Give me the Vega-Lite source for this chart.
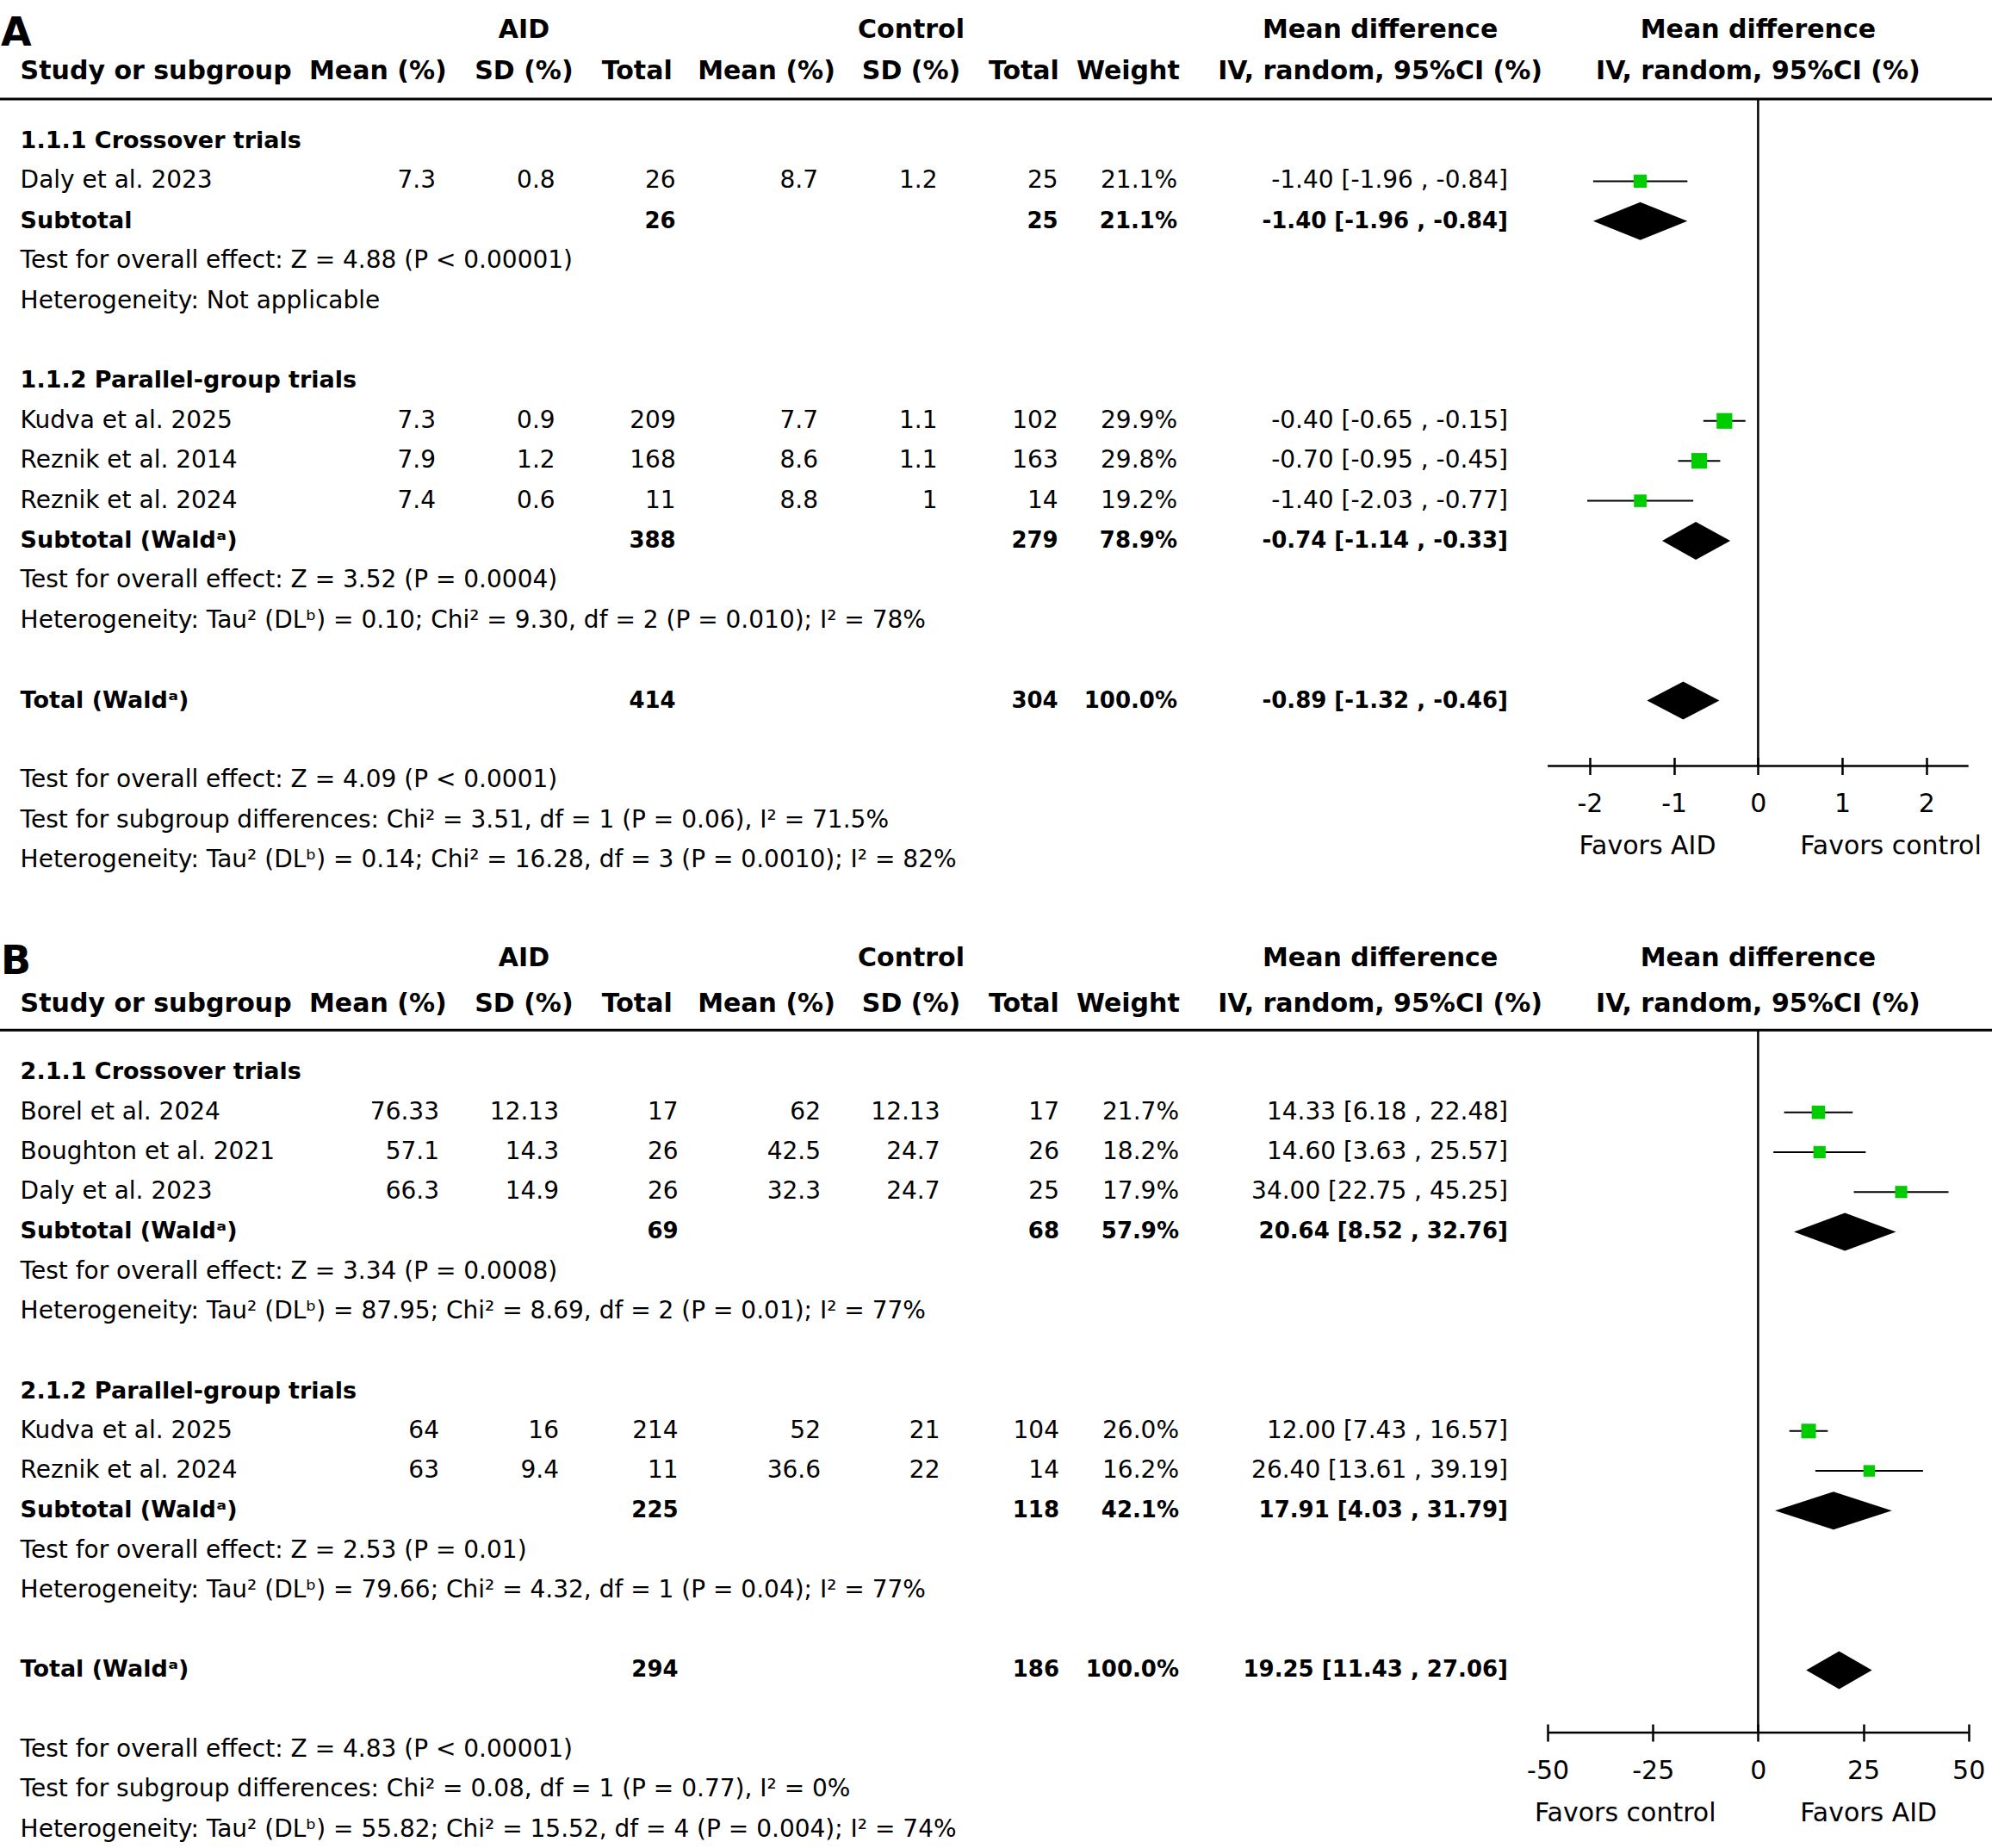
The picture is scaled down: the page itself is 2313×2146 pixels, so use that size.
{
"$schema": "https://vega.github.io/schema/vega-lite/v6.json",
"width": 2313, "height": 2146,
"autosize": {"type": "none"},
"padding": 0,
"background": "white",
"config": {"view": {"stroke": null}, "text": {"font": "DejaVu Sans", "color": "black"}},
"datasets": {
"rows": [
{"p":"A","kind":"letter","r":-3,"c":-1,"label":"A"},
{"p":"A","kind":"head","r":-3,"c":2,"label":"AID"},
{"p":"A","kind":"head","r":-3,"c":5,"label":"Control"},
{"p":"A","kind":"head","r":-3,"c":8,"label":"Mean difference"},
{"p":"A","kind":"head","r":-3,"c":9,"label":"Mean difference"},
{"p":"A","kind":"headL","r":-2,"c":0,"label":"Study or subgroup"},
{"p":"A","kind":"head","r":-2,"c":1,"label":"Mean (%)"},
{"p":"A","kind":"head","r":-2,"c":2,"label":"SD (%)"},
{"p":"A","kind":"head","r":-2,"c":3,"label":"Total"},
{"p":"A","kind":"head","r":-2,"c":4,"label":"Mean (%)"},
{"p":"A","kind":"head","r":-2,"c":5,"label":"SD (%)"},
{"p":"A","kind":"head","r":-2,"c":6,"label":"Total"},
{"p":"A","kind":"head","r":-2,"c":7,"label":"Weight"},
{"p":"A","kind":"head","r":-2,"c":8,"label":"IV, random, 95%CI (%)"},
{"p":"A","kind":"head","r":-2,"c":9,"label":"IV, random, 95%CI (%)"},
{"p":"A","kind":"rule","r":-1},
{"p":"A","kind":"group","r":0,"label":"1.1.1 Crossover trials"},
{"p":"A","kind":"study","r":1,"label":"Daly et al. 2023","m1":7.3,"sd1":0.8,"n1":26,"m2":8.7,"sd2":1.2,"n2":25,"w":0.211,"ci":"-1.40 [-1.96 , -0.84]","md":-1.40,"lo":-1.96,"hi":-0.84},
{"p":"A","kind":"sub","r":2,"label":"Subtotal","n1":26,"n2":25,"w":0.211,"ci":"-1.40 [-1.96 , -0.84]","md":-1.40,"lo":-1.96,"hi":-0.84},
{"p":"A","kind":"note","r":3,"label":"Test for overall effect: Z = 4.88 (P < 0.00001)"},
{"p":"A","kind":"note","r":4,"label":"Heterogeneity: Not applicable"},
{"p":"A","kind":"group","r":6,"label":"1.1.2 Parallel-group trials"},
{"p":"A","kind":"study","r":7,"label":"Kudva et al. 2025","m1":7.3,"sd1":0.9,"n1":209,"m2":7.7,"sd2":1.1,"n2":102,"w":0.299,"ci":"-0.40 [-0.65 , -0.15]","md":-0.40,"lo":-0.65,"hi":-0.15},
{"p":"A","kind":"study","r":8,"label":"Reznik et al. 2014","m1":7.9,"sd1":1.2,"n1":168,"m2":8.6,"sd2":1.1,"n2":163,"w":0.298,"ci":"-0.70 [-0.95 , -0.45]","md":-0.70,"lo":-0.95,"hi":-0.45},
{"p":"A","kind":"study","r":9,"label":"Reznik et al. 2024","m1":7.4,"sd1":0.6,"n1":11,"m2":8.8,"sd2":1,"n2":14,"w":0.192,"ci":"-1.40 [-2.03 , -0.77]","md":-1.40,"lo":-2.03,"hi":-0.77},
{"p":"A","kind":"sub","r":10,"label":"Subtotal (Waldᵃ)","n1":388,"n2":279,"w":0.789,"ci":"-0.74 [-1.14 , -0.33]","md":-0.74,"lo":-1.14,"hi":-0.33},
{"p":"A","kind":"note","r":11,"label":"Test for overall effect: Z = 3.52 (P = 0.0004)"},
{"p":"A","kind":"note","r":12,"label":"Heterogeneity: Tau² (DLᵇ) = 0.10; Chi² = 9.30, df = 2 (P = 0.010); I² = 78%"},
{"p":"A","kind":"total","r":14,"label":"Total (Waldᵃ)","n1":414,"n2":304,"w":1.0,"ci":"-0.89 [-1.32 , -0.46]","md":-0.89,"lo":-1.32,"hi":-0.46},
{"p":"A","kind":"note","r":16,"label":"Test for overall effect: Z = 4.09 (P < 0.0001)"},
{"p":"A","kind":"note","r":17,"label":"Test for subgroup differences: Chi² = 3.51, df = 1 (P = 0.06), I² = 71.5%"},
{"p":"A","kind":"note","r":18,"label":"Heterogeneity: Tau² (DLᵇ) = 0.14; Chi² = 16.28, df = 3 (P = 0.0010); I² = 82%"},
{"p":"A","kind":"favL","label":"Favors AID"},
{"p":"A","kind":"favR","label":"Favors control"},
{"p":"B","kind":"letter","r":-3,"c":-1,"label":"B"},
{"p":"B","kind":"head","r":-3,"c":2,"label":"AID"},
{"p":"B","kind":"head","r":-3,"c":5,"label":"Control"},
{"p":"B","kind":"head","r":-3,"c":8,"label":"Mean difference"},
{"p":"B","kind":"head","r":-3,"c":9,"label":"Mean difference"},
{"p":"B","kind":"headL","r":-2,"c":0,"label":"Study or subgroup"},
{"p":"B","kind":"head","r":-2,"c":1,"label":"Mean (%)"},
{"p":"B","kind":"head","r":-2,"c":2,"label":"SD (%)"},
{"p":"B","kind":"head","r":-2,"c":3,"label":"Total"},
{"p":"B","kind":"head","r":-2,"c":4,"label":"Mean (%)"},
{"p":"B","kind":"head","r":-2,"c":5,"label":"SD (%)"},
{"p":"B","kind":"head","r":-2,"c":6,"label":"Total"},
{"p":"B","kind":"head","r":-2,"c":7,"label":"Weight"},
{"p":"B","kind":"head","r":-2,"c":8,"label":"IV, random, 95%CI (%)"},
{"p":"B","kind":"head","r":-2,"c":9,"label":"IV, random, 95%CI (%)"},
{"p":"B","kind":"rule","r":-1},
{"p":"B","kind":"group","r":0,"label":"2.1.1 Crossover trials"},
{"p":"B","kind":"study","r":1,"label":"Borel et al. 2024","m1":76.33,"sd1":12.13,"n1":17,"m2":62,"sd2":12.13,"n2":17,"w":0.217,"ci":"14.33 [6.18 , 22.48]","md":14.33,"lo":6.18,"hi":22.48},
{"p":"B","kind":"study","r":2,"label":"Boughton et al. 2021","m1":57.1,"sd1":14.3,"n1":26,"m2":42.5,"sd2":24.7,"n2":26,"w":0.182,"ci":"14.60 [3.63 , 25.57]","md":14.60,"lo":3.63,"hi":25.57},
{"p":"B","kind":"study","r":3,"label":"Daly et al. 2023","m1":66.3,"sd1":14.9,"n1":26,"m2":32.3,"sd2":24.7,"n2":25,"w":0.179,"ci":"34.00 [22.75 , 45.25]","md":34.00,"lo":22.75,"hi":45.25},
{"p":"B","kind":"sub","r":4,"label":"Subtotal (Waldᵃ)","n1":69,"n2":68,"w":0.579,"ci":"20.64 [8.52 , 32.76]","md":20.64,"lo":8.52,"hi":32.76},
{"p":"B","kind":"note","r":5,"label":"Test for overall effect: Z = 3.34 (P = 0.0008)"},
{"p":"B","kind":"note","r":6,"label":"Heterogeneity: Tau² (DLᵇ) = 87.95; Chi² = 8.69, df = 2 (P = 0.01); I² = 77%"},
{"p":"B","kind":"group","r":8,"label":"2.1.2 Parallel-group trials"},
{"p":"B","kind":"study","r":9,"label":"Kudva et al. 2025","m1":64,"sd1":16,"n1":214,"m2":52,"sd2":21,"n2":104,"w":0.26,"ci":"12.00 [7.43 , 16.57]","md":12.00,"lo":7.43,"hi":16.57},
{"p":"B","kind":"study","r":10,"label":"Reznik et al. 2024","m1":63,"sd1":9.4,"n1":11,"m2":36.6,"sd2":22,"n2":14,"w":0.162,"ci":"26.40 [13.61 , 39.19]","md":26.40,"lo":13.61,"hi":39.19},
{"p":"B","kind":"sub","r":11,"label":"Subtotal (Waldᵃ)","n1":225,"n2":118,"w":0.421,"ci":"17.91 [4.03 , 31.79]","md":17.91,"lo":4.03,"hi":31.79},
{"p":"B","kind":"note","r":12,"label":"Test for overall effect: Z = 2.53 (P = 0.01)"},
{"p":"B","kind":"note","r":13,"label":"Heterogeneity: Tau² (DLᵇ) = 79.66; Chi² = 4.32, df = 1 (P = 0.04); I² = 77%"},
{"p":"B","kind":"total","r":15,"label":"Total (Waldᵃ)","n1":294,"n2":186,"w":1.0,"ci":"19.25 [11.43 , 27.06]","md":19.25,"lo":11.43,"hi":27.06},
{"p":"B","kind":"note","r":17,"label":"Test for overall effect: Z = 4.83 (P < 0.00001)"},
{"p":"B","kind":"note","r":18,"label":"Test for subgroup differences: Chi² = 0.08, df = 1 (P = 0.77), I² = 0%"},
{"p":"B","kind":"note","r":19,"label":"Heterogeneity: Tau² (DLᵇ) = 55.82; Chi² = 15.52, df = 4 (P = 0.004); I² = 74%"},
{"p":"B","kind":"favL","label":"Favors control"},
{"p":"B","kind":"favR","label":"Favors AID"}
],
"cols": [
{"col":"m1","c":1},{"col":"sd1","c":2},{"col":"n1","c":3},{"col":"m2","c":4},{"col":"sd2","c":5},{"col":"n2","c":6},{"col":"ci","c":8}
]
},
"data": {"name": "rows"},
"layer": [
{
"layer": [
{
"encoding": {"y": {"field":"r","type":"quantitative","scale":{"type":"linear","domain":[-3,-2,-1,0,18],"range":[34.5,83,115,164,999.1],"nice":false,"zero":false},"axis":null}},
"layer": [
{"transform":[{"filter":"datum.p==='A' && datum.kind==='letter'"}],
 "mark":{"type":"text","align":"left","baseline":"middle","fontSize":46,"fontWeight":"bold","dy":4},
 "encoding":{"x":{"field":"c","type":"quantitative","scale":{"type":"linear","domain":[-1,0,1,2,3,4,5,6,7,8,9],"range":[1,23.6,438.8,608.4,739.7,890,1058,1188.9,1309.8,1602.6,2041.4],"nice":false,"zero":false},"axis":null},"text":{"field":"label"}}},
{"transform":[{"filter":"datum.p==='A' && datum.kind==='head'"}],
 "mark":{"type":"text","align":"center","baseline":"middle","fontSize":30,"fontWeight":"bold"},
 "encoding":{"x":{"field":"c","type":"quantitative","scale":{"type":"linear","domain":[-1,0,1,2,3,4,5,6,7,8,9],"range":[1,23.6,438.8,608.4,739.7,890,1058,1188.9,1309.8,1602.6,2041.4],"nice":false,"zero":false},"axis":null},"text":{"field":"label"}}},
{"transform":[{"filter":"datum.p==='A' && datum.kind==='headL'"}],
 "mark":{"type":"text","align":"left","baseline":"middle","fontSize":30,"fontWeight":"bold"},
 "encoding":{"x":{"field":"c","type":"quantitative","scale":{"type":"linear","domain":[-1,0,1,2,3,4,5,6,7,8,9],"range":[1,23.6,438.8,608.4,739.7,890,1058,1188.9,1309.8,1602.6,2041.4],"nice":false,"zero":false},"axis":null},"text":{"field":"label"}}},
{"transform":[{"filter":"datum.p==='A' && datum.kind==='rule'"}],
 "mark":{"type":"rule","strokeWidth":3,"color":"black"},
 "encoding":{"y":{"field":"r","type":"quantitative","scale":{"type":"linear","domain":[-3,-2,-1,0,18],"range":[34.5,83,115,164,999.1],"nice":false,"zero":false},"axis":null}}},
{"transform":[{"filter":"datum.p==='A' && (datum.kind==='study' || datum.kind==='note')"}],
 "mark":{"type":"text","align":"left","baseline":"middle","fontSize":28},
 "encoding":{"x":{"datum":0,"type":"quantitative","scale":{"type":"linear","domain":[0,1,2,3,4,5,6,7,8],"range":[23.6,506,644.6,784.7,950,1088.5,1228.7,1367,1751],"nice":false,"zero":false},"axis":null},"text":{"field":"label"}}},
{"transform":[{"filter":"datum.p==='A' && (datum.kind==='group' || datum.kind==='sub' || datum.kind==='total')"}],
 "mark":{"type":"text","align":"left","baseline":"middle","fontSize":27,"fontWeight":"bold"},
 "encoding":{"x":{"datum":0,"type":"quantitative","scale":{"type":"linear","domain":[0,1,2,3,4,5,6,7,8],"range":[23.6,506,644.6,784.7,950,1088.5,1228.7,1367,1751],"nice":false,"zero":false},"axis":null},"text":{"field":"label"}}},
{"transform":[{"filter":"datum.p==='A' && datum.kind==='study'"},{"fold":["m1","sd1","n1","m2","sd2","n2","ci"],"as":["col","val"]},{"lookup":"col","from":{"data":{"name":"cols"},"key":"col","fields":["c"]}}],
 "mark":{"type":"text","align":"right","baseline":"middle","fontSize":28},
 "encoding":{"x":{"field":"c","type":"quantitative","scale":{"type":"linear","domain":[0,1,2,3,4,5,6,7,8],"range":[23.6,506,644.6,784.7,950,1088.5,1228.7,1367,1751],"nice":false,"zero":false},"axis":null},"text":{"field":"val","type":"nominal"}}},
{"transform":[{"filter":"datum.p==='A' && (datum.kind==='sub' || datum.kind==='total')"},{"fold":["n1","n2","ci"],"as":["col","val"]},{"lookup":"col","from":{"data":{"name":"cols"},"key":"col","fields":["c"]}}],
 "mark":{"type":"text","align":"right","baseline":"middle","fontSize":26,"fontWeight":"bold"},
 "encoding":{"x":{"field":"c","type":"quantitative","scale":{"type":"linear","domain":[0,1,2,3,4,5,6,7,8],"range":[23.6,506,644.6,784.7,950,1088.5,1228.7,1367,1751],"nice":false,"zero":false},"axis":null},"text":{"field":"val","type":"nominal"}}},
{"transform":[{"filter":"datum.p==='A' && datum.kind==='study'"}],
 "mark":{"type":"text","align":"right","baseline":"middle","fontSize":28},
 "encoding":{"x":{"datum":7,"type":"quantitative","scale":{"type":"linear","domain":[0,1,2,3,4,5,6,7,8],"range":[23.6,506,644.6,784.7,950,1088.5,1228.7,1367,1751],"nice":false,"zero":false},"axis":null},"text":{"field":"w","type":"quantitative","format":".1%"}}},
{"transform":[{"filter":"datum.p==='A' && (datum.kind==='sub' || datum.kind==='total')"}],
 "mark":{"type":"text","align":"right","baseline":"middle","fontSize":26,"fontWeight":"bold"},
 "encoding":{"x":{"datum":7,"type":"quantitative","scale":{"type":"linear","domain":[0,1,2,3,4,5,6,7,8],"range":[23.6,506,644.6,784.7,950,1088.5,1228.7,1367,1751],"nice":false,"zero":false},"axis":null},"text":{"field":"w","type":"quantitative","format":".1%"}}},
{"transform":[{"filter":"datum.p==='A' && datum.kind==='study'"}],
 "mark":{"type":"rule","strokeWidth":2,"color":"black"},
 "encoding":{"x":{"field":"lo","type":"quantitative","scale":{"type":"linear","domain":[-2.5,2.5],"range":[1797.1,2285.7],"nice":false,"zero":false},
   "axis":{"orient":"bottom","offset":-1266.5,"values":[-2,-1,0,1,2],"domain":false,"grid":false,"tickSize":20,"tickWidth":2.5,"tickColor":"black","labelFont":"DejaVu Sans","labelFontSize":30,"labelColor":"black","labelPadding":34,"labelBaseline":"middle","labelExpr":"'' + datum.value","labelFlush":false,"labelOverlap":false,"title":null}},
  "x2":{"field":"hi"}}},
{"transform":[{"filter":"datum.p==='A' && datum.kind==='study'"}],
 "mark":{"type":"point","shape":"square","filled":true,"color":"#00cc00","opacity":1,"strokeWidth":0},
 "encoding":{"x":{"field":"md","type":"quantitative","scale":{"type":"linear","domain":[-2.5,2.5],"range":[1797.1,2285.7],"nice":false,"zero":false},"axis":null},
  "size":{"field":"w","type":"quantitative","scale":{"domain":[0,1],"range":[0,1110]},"legend":null}}},
{"transform":[{"filter":"datum.p==='A' && (datum.kind==='sub' || datum.kind==='total')"},{"fold":["lo","md","hi"],"as":["key","v"]}],
 "mark":{"type":"area","color":"black","orient":"vertical","yOffset":{"expr":"datum.key === 'md' ? -22 : 0"},"y2Offset":{"expr":"datum.key === 'md' ? 22 : 0"}},
 "encoding":{"x":{"field":"v","type":"quantitative","scale":{"type":"linear","domain":[-2.5,2.5],"range":[1797.1,2285.7],"nice":false,"zero":false},"axis":null},
  "y":{"field":"r","type":"quantitative","stack":null,"scale":{"type":"linear","domain":[-3,-2,-1,0,18],"range":[34.5,83,115,164,999.1],"nice":false,"zero":false},"axis":null},
  "y2":{"field":"r"},
  "detail":{"field":"r","type":"quantitative"}}}
],
"resolve": {"scale": {"x": "independent"}}
},
{"transform":[{"filter":"datum.p==='A' && datum.kind==='favL'"}],
 "mark":{"type":"rule","strokeWidth":2.5,"color":"black"},
 "encoding":{"x":{"datum":0,"type":"quantitative","scale":{"type":"linear","domain":[-2.5,2.5],"range":[1797.1,2285.7],"nice":false,"zero":false},"axis":null},
  "y":{"datum":-1,"type":"quantitative","scale":{"type":"linear","domain":[-3,-2,-1,0,18],"range":[34.5,83,115,164,999.1],"nice":false,"zero":false},"axis":null},"y2":{"datum":15.64}}},
{"transform":[{"filter":"datum.p==='A' && datum.kind==='favL'"}],
 "mark":{"type":"rule","strokeWidth":2.5,"color":"black"},
 "encoding":{"x":{"datum":-2.5,"type":"quantitative","scale":{"type":"linear","domain":[-2.5,2.5],"range":[1797.1,2285.7],"nice":false,"zero":false},"axis":null},"x2":{"datum":2.5},
  "y":{"datum":15.64,"type":"quantitative","scale":{"type":"linear","domain":[-3,-2,-1,0,18],"range":[34.5,83,115,164,999.1],"nice":false,"zero":false},"axis":null}}},
{"transform":[{"filter":"datum.p==='A' && datum.kind==='favL'"}],
 "mark":{"type":"text","align":"right","baseline":"middle","fontSize":30},
 "encoding":{"x":{"datum":-0.5,"type":"quantitative","scale":{"type":"linear","domain":[-2.5,2.5],"range":[1797.1,2285.7],"nice":false,"zero":false},"axis":null},
  "y":{"datum":17.65,"type":"quantitative","scale":{"type":"linear","domain":[-3,-2,-1,0,18],"range":[34.5,83,115,164,999.1],"nice":false,"zero":false},"axis":null},"text":{"field":"label"}}},
{"transform":[{"filter":"datum.p==='A' && datum.kind==='favR'"}],
 "mark":{"type":"text","align":"left","baseline":"middle","fontSize":30},
 "encoding":{"x":{"datum":0.5,"type":"quantitative","scale":{"type":"linear","domain":[-2.5,2.5],"range":[1797.1,2285.7],"nice":false,"zero":false},"axis":null},
  "y":{"datum":17.65,"type":"quantitative","scale":{"type":"linear","domain":[-3,-2,-1,0,18],"range":[34.5,83,115,164,999.1],"nice":false,"zero":false},"axis":null},"text":{"field":"label"}}}
],
"resolve": {"scale": {"x": "independent"}}
},
{
"layer": [
{
"encoding": {"y": {"field":"r","type":"quantitative","scale":{"type":"linear","domain":[-3,-2,-1,0,19],"range":[1112.7,1165.8,1196.2,1245.4,2124.5],"nice":false,"zero":false},"axis":null}},
"layer": [
{"transform":[{"filter":"datum.p==='B' && datum.kind==='letter'"}],
 "mark":{"type":"text","align":"left","baseline":"middle","fontSize":46,"fontWeight":"bold","dy":4},
 "encoding":{"x":{"field":"c","type":"quantitative","scale":{"type":"linear","domain":[-1,0,1,2,3,4,5,6,7,8,9],"range":[1,23.6,438.8,608.4,739.7,890,1058,1188.9,1309.8,1602.6,2041.4],"nice":false,"zero":false},"axis":null},"text":{"field":"label"}}},
{"transform":[{"filter":"datum.p==='B' && datum.kind==='head'"}],
 "mark":{"type":"text","align":"center","baseline":"middle","fontSize":30,"fontWeight":"bold"},
 "encoding":{"x":{"field":"c","type":"quantitative","scale":{"type":"linear","domain":[-1,0,1,2,3,4,5,6,7,8,9],"range":[1,23.6,438.8,608.4,739.7,890,1058,1188.9,1309.8,1602.6,2041.4],"nice":false,"zero":false},"axis":null},"text":{"field":"label"}}},
{"transform":[{"filter":"datum.p==='B' && datum.kind==='headL'"}],
 "mark":{"type":"text","align":"left","baseline":"middle","fontSize":30,"fontWeight":"bold"},
 "encoding":{"x":{"field":"c","type":"quantitative","scale":{"type":"linear","domain":[-1,0,1,2,3,4,5,6,7,8,9],"range":[1,23.6,438.8,608.4,739.7,890,1058,1188.9,1309.8,1602.6,2041.4],"nice":false,"zero":false},"axis":null},"text":{"field":"label"}}},
{"transform":[{"filter":"datum.p==='B' && datum.kind==='rule'"}],
 "mark":{"type":"rule","strokeWidth":3,"color":"black"},
 "encoding":{"y":{"field":"r","type":"quantitative","scale":{"type":"linear","domain":[-3,-2,-1,0,19],"range":[1112.7,1165.8,1196.2,1245.4,2124.5],"nice":false,"zero":false},"axis":null}}},
{"transform":[{"filter":"datum.p==='B' && (datum.kind==='study' || datum.kind==='note')"}],
 "mark":{"type":"text","align":"left","baseline":"middle","fontSize":28},
 "encoding":{"x":{"datum":0,"type":"quantitative","scale":{"type":"linear","domain":[0,1,2,3,4,5,6,7,8],"range":[23.6,510,649,787.6,953,1091.5,1230,1369,1751],"nice":false,"zero":false},"axis":null},"text":{"field":"label"}}},
{"transform":[{"filter":"datum.p==='B' && (datum.kind==='group' || datum.kind==='sub' || datum.kind==='total')"}],
 "mark":{"type":"text","align":"left","baseline":"middle","fontSize":27,"fontWeight":"bold"},
 "encoding":{"x":{"datum":0,"type":"quantitative","scale":{"type":"linear","domain":[0,1,2,3,4,5,6,7,8],"range":[23.6,510,649,787.6,953,1091.5,1230,1369,1751],"nice":false,"zero":false},"axis":null},"text":{"field":"label"}}},
{"transform":[{"filter":"datum.p==='B' && datum.kind==='study'"},{"fold":["m1","sd1","n1","m2","sd2","n2","ci"],"as":["col","val"]},{"lookup":"col","from":{"data":{"name":"cols"},"key":"col","fields":["c"]}}],
 "mark":{"type":"text","align":"right","baseline":"middle","fontSize":28},
 "encoding":{"x":{"field":"c","type":"quantitative","scale":{"type":"linear","domain":[0,1,2,3,4,5,6,7,8],"range":[23.6,510,649,787.6,953,1091.5,1230,1369,1751],"nice":false,"zero":false},"axis":null},"text":{"field":"val","type":"nominal"}}},
{"transform":[{"filter":"datum.p==='B' && (datum.kind==='sub' || datum.kind==='total')"},{"fold":["n1","n2","ci"],"as":["col","val"]},{"lookup":"col","from":{"data":{"name":"cols"},"key":"col","fields":["c"]}}],
 "mark":{"type":"text","align":"right","baseline":"middle","fontSize":26,"fontWeight":"bold"},
 "encoding":{"x":{"field":"c","type":"quantitative","scale":{"type":"linear","domain":[0,1,2,3,4,5,6,7,8],"range":[23.6,510,649,787.6,953,1091.5,1230,1369,1751],"nice":false,"zero":false},"axis":null},"text":{"field":"val","type":"nominal"}}},
{"transform":[{"filter":"datum.p==='B' && datum.kind==='study'"}],
 "mark":{"type":"text","align":"right","baseline":"middle","fontSize":28},
 "encoding":{"x":{"datum":7,"type":"quantitative","scale":{"type":"linear","domain":[0,1,2,3,4,5,6,7,8],"range":[23.6,510,649,787.6,953,1091.5,1230,1369,1751],"nice":false,"zero":false},"axis":null},"text":{"field":"w","type":"quantitative","format":".1%"}}},
{"transform":[{"filter":"datum.p==='B' && (datum.kind==='sub' || datum.kind==='total')"}],
 "mark":{"type":"text","align":"right","baseline":"middle","fontSize":26,"fontWeight":"bold"},
 "encoding":{"x":{"datum":7,"type":"quantitative","scale":{"type":"linear","domain":[0,1,2,3,4,5,6,7,8],"range":[23.6,510,649,787.6,953,1091.5,1230,1369,1751],"nice":false,"zero":false},"axis":null},"text":{"field":"w","type":"quantitative","format":".1%"}}},
{"transform":[{"filter":"datum.p==='B' && datum.kind==='study'"}],
 "mark":{"type":"rule","strokeWidth":2,"color":"black"},
 "encoding":{"x":{"field":"lo","type":"quantitative","scale":{"type":"linear","domain":[-50,50],"range":[1797.1,2285.7],"nice":false,"zero":false},
   "axis":{"orient":"bottom","offset":-144,"values":[-50,-25,0,25,50],"domain":false,"grid":false,"tickSize":20,"tickWidth":2.5,"tickColor":"black","labelFont":"DejaVu Sans","labelFontSize":30,"labelColor":"black","labelPadding":34,"labelBaseline":"middle","labelExpr":"'' + datum.value","labelFlush":false,"labelOverlap":false,"title":null}},
  "x2":{"field":"hi"}}},
{"transform":[{"filter":"datum.p==='B' && datum.kind==='study'"}],
 "mark":{"type":"point","shape":"square","filled":true,"color":"#00cc00","opacity":1,"strokeWidth":0},
 "encoding":{"x":{"field":"md","type":"quantitative","scale":{"type":"linear","domain":[-50,50],"range":[1797.1,2285.7],"nice":false,"zero":false},"axis":null},
  "size":{"field":"w","type":"quantitative","scale":{"domain":[0,1],"range":[0,1110]},"legend":null}}},
{"transform":[{"filter":"datum.p==='B' && (datum.kind==='sub' || datum.kind==='total')"},{"fold":["lo","md","hi"],"as":["key","v"]}],
 "mark":{"type":"area","color":"black","orient":"vertical","yOffset":{"expr":"datum.key === 'md' ? -22 : 0"},"y2Offset":{"expr":"datum.key === 'md' ? 22 : 0"}},
 "encoding":{"x":{"field":"v","type":"quantitative","scale":{"type":"linear","domain":[-50,50],"range":[1797.1,2285.7],"nice":false,"zero":false},"axis":null},
  "y":{"field":"r","type":"quantitative","stack":null,"scale":{"type":"linear","domain":[-3,-2,-1,0,19],"range":[1112.7,1165.8,1196.2,1245.4,2124.5],"nice":false,"zero":false},"axis":null},
  "y2":{"field":"r"},
  "detail":{"field":"r","type":"quantitative"}}}
],
"resolve": {"scale": {"x": "independent"}}
},
{"transform":[{"filter":"datum.p==='B' && datum.kind==='favL'"}],
 "mark":{"type":"rule","strokeWidth":2.5,"color":"black"},
 "encoding":{"x":{"datum":0,"type":"quantitative","scale":{"type":"linear","domain":[-50,50],"range":[1797.1,2285.7],"nice":false,"zero":false},"axis":null},
  "y":{"datum":-1,"type":"quantitative","scale":{"type":"linear","domain":[-3,-2,-1,0,19],"range":[1112.7,1165.8,1196.2,1245.4,2124.5],"nice":false,"zero":false},"axis":null},"y2":{"datum":16.57}}},
{"transform":[{"filter":"datum.p==='B' && datum.kind==='favL'"}],
 "mark":{"type":"rule","strokeWidth":2.5,"color":"black"},
 "encoding":{"x":{"datum":-50,"type":"quantitative","scale":{"type":"linear","domain":[-50,50],"range":[1797.1,2285.7],"nice":false,"zero":false},"axis":null},"x2":{"datum":50},
  "y":{"datum":16.57,"type":"quantitative","scale":{"type":"linear","domain":[-3,-2,-1,0,19],"range":[1112.7,1165.8,1196.2,1245.4,2124.5],"nice":false,"zero":false},"axis":null}}},
{"transform":[{"filter":"datum.p==='B' && datum.kind==='favL'"}],
 "mark":{"type":"text","align":"right","baseline":"middle","fontSize":30},
 "encoding":{"x":{"datum":-10,"type":"quantitative","scale":{"type":"linear","domain":[-50,50],"range":[1797.1,2285.7],"nice":false,"zero":false},"axis":null},
  "y":{"datum":18.59,"type":"quantitative","scale":{"type":"linear","domain":[-3,-2,-1,0,19],"range":[1112.7,1165.8,1196.2,1245.4,2124.5],"nice":false,"zero":false},"axis":null},"text":{"field":"label"}}},
{"transform":[{"filter":"datum.p==='B' && datum.kind==='favR'"}],
 "mark":{"type":"text","align":"left","baseline":"middle","fontSize":30},
 "encoding":{"x":{"datum":10,"type":"quantitative","scale":{"type":"linear","domain":[-50,50],"range":[1797.1,2285.7],"nice":false,"zero":false},"axis":null},
  "y":{"datum":18.59,"type":"quantitative","scale":{"type":"linear","domain":[-3,-2,-1,0,19],"range":[1112.7,1165.8,1196.2,1245.4,2124.5],"nice":false,"zero":false},"axis":null},"text":{"field":"label"}}}
],
"resolve": {"scale": {"x": "independent"}}
}
],
"resolve": {"scale": {"x": "independent", "y": "independent", "size": "independent"}}
}
